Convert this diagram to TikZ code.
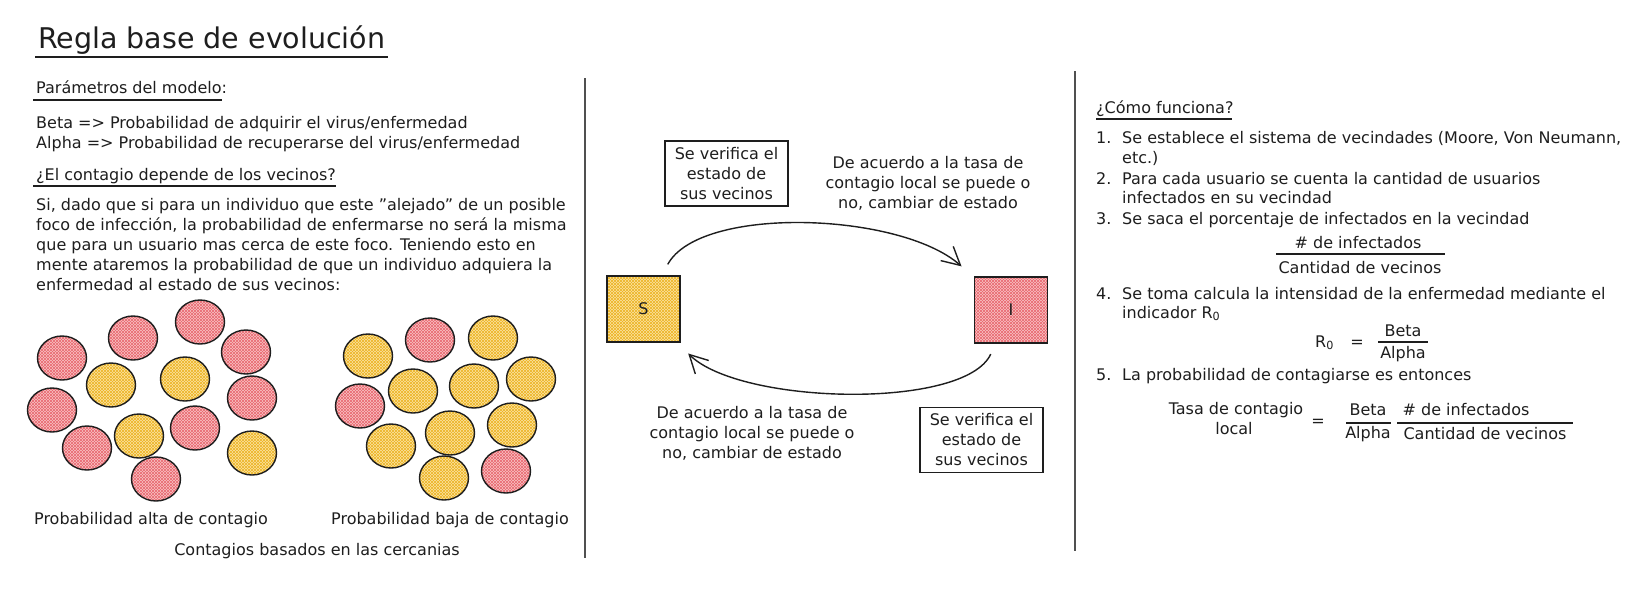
\documentclass[tikz,border=0pt]{standalone}
\usepackage{fontspec}
\setmainfont{DejaVu Sans}
\usetikzlibrary{arrows.meta,patterns}
\definecolor{ink}{HTML}{1E1E1E}
\definecolor{sepc}{HTML}{505050}
\definecolor{redfill}{HTML}{F9C2C5}
\definecolor{redhatch}{HTML}{E9686F}
\definecolor{yelfill}{HTML}{FCE3A2}
\definecolor{yelhatch}{HTML}{EDB424}
\newcommand{\fs}{\fontsize{16}{20}\selectfont}
\begin{document}
\begin{tikzpicture}[x=1pt,y=-1pt,
  txt/.style={anchor=base west,inner sep=0pt,text=ink,font=\fs},
  ctxt/.style={anchor=base,inner sep=0pt,text=ink,font=\fs},
  blk/.style={anchor=center,inner sep=0pt,text=ink,font=\fs,align=center},
  uline/.style={draw=ink,line width=1.3pt},
  sepline/.style={draw=sepc,line width=1.8pt},
  redc/.style={fill=redfill,
    postaction={pattern=north east lines,pattern color=redhatch},
    postaction={pattern=north west lines,pattern color=redhatch},
    postaction={draw=ink,line width=1.4pt}},
  yelc/.style={fill=yelfill,
    postaction={pattern=north east lines,pattern color=yelhatch},
    postaction={pattern=north west lines,pattern color=yelhatch},
    postaction={draw=ink,line width=1.4pt}},
  vbox/.style={draw=ink,line width=1.3pt,minimum width=123pt,minimum height=65pt,
    align=center,inner sep=0pt,text=ink,font=\fs},
  statebox/.style={minimum width=73pt,minimum height=66pt,inner sep=0pt,text=ink,font=\fs},
  arr/.style={draw=ink,line width=1.4pt,-{Straight Barb[length=18pt,width=19pt]}},
  fbar/.style={draw=ink,line width=1.2pt}
]
\useasboundingbox (0,0) rectangle (1637,611);
\fill[white] (0,0) rectangle (1637,611);

% separators
\draw[sepline] (585,78) -- (585,558);
\draw[sepline] (1075,71) -- (1075,551);

% title
\node[anchor=base west,inner sep=0pt,text=ink,font=\fontsize{28.5}{34}\selectfont] (title) at (38,48) {Regla base de evolución};
\draw[uline,line width=2pt] (35,57) -- (388,57);

% left column
\node[txt] (par) at (36,93) {Parámetros del modelo:};
\draw[uline] (33,100) -- (222,100);
\node[txt] (beta) at (36,128) {Beta => Probabilidad de adquirir el virus/enfermedad};
\node[txt] (alpha) at (36,148) {Alpha => Probabilidad de recuperarse del virus/enfermedad};
\node[txt] (q) at (36,180) {¿El contagio depende de los vecinos?};
\draw[uline] (33,186) -- (336,186);
\node[txt] (p1) at (36,210) {Si, dado que si para un individuo que este "alejado" de un posible};
\node[txt] (p2) at (36,230) {foco de infección, la probabilidad de enfermarse no será la misma};
\node[txt] (p3) at (36,250) {que para un usuario mas cerca de este foco. Teniendo esto en};
\node[txt] (p4) at (36,270) {mente ataremos la probabilidad de que un individuo adquiera la};
\node[txt] (p5) at (36,290) {enfermedad al estado de sus vecinos:};

% left cluster
\foreach \x/\y in {62/358,133/338,200/322,246/352,252/398,52/410,195/428,87/448,156/479}
  \path[redc] (\x,\y) ellipse [x radius=24.5, y radius=22];
\foreach \x/\y in {111/385,185/379,139/436,252/453}
  \path[yelc] (\x,\y) ellipse [x radius=24.5, y radius=22];
% right cluster
\foreach \x/\y in {430/340,360/406,506/471}
  \path[redc] (\x,\y) ellipse [x radius=24.5, y radius=22];
\foreach \x/\y in {368/356,493/338,413/391,474/386,531/379,450/433,512/425,391/446,444/478}
  \path[yelc] (\x,\y) ellipse [x radius=24.5, y radius=22];

\node[ctxt] (alta) at (151,524) {Probabilidad alta de contagio};
\node[ctxt] (baja) at (450,524) {Probabilidad baja de contagio};
\node[ctxt] (cerc) at (317,555) {Contagios basados en las cercanias};

% middle
\node[vbox] (v1) at (726.5,173.5) {Se verifica el\\estado de\\sus vecinos};
\node[vbox] (v2) at (981.5,440) {Se verifica el\\estado de\\sus vecinos};
\node[blk] (l1) at (928,183) {De acuerdo a la tasa de\\contagio local se puede o\\no, cambiar de estado};
\node[blk] (l2) at (752,433) {De acuerdo a la tasa de\\contagio local se puede o\\no, cambiar de estado};

\node[statebox,fill=yelfill,
    postaction={pattern=north east lines,pattern color=yelhatch},
    postaction={pattern=north west lines,pattern color=yelhatch},
    postaction={draw=ink,line width=1.4pt}] (S) at (643.5,309) {S};
\node[statebox,fill=redfill,
    postaction={pattern=north east lines,pattern color=redhatch},
    postaction={pattern=north west lines,pattern color=redhatch},
    postaction={draw=ink,line width=1.4pt}] (I) at (1011,310) {I};

\draw[arr,shorten <=13pt,shorten >=17pt] (S) .. controls (700,205) and (900,212) .. (I);
\draw[arr,shorten <=12pt,shorten >=16pt] (I) .. controls (965,410) and (740,405) .. (S);

% right column
\node[txt] (how) at (1096,113) {¿Cómo funciona?};
\draw[uline] (1096,119) -- (1232,119);
\node[txt] (n1) at (1096,143) {1.};
\node[txt] (t1) at (1122,143) {Se establece el sistema de vecindades (Moore, Von Neumann,};
\node[txt] (t1b) at (1122,163) {etc.)};
\node[txt] (n2) at (1096,184) {2.};
\node[txt] (t2) at (1122,184) {Para cada usuario se cuenta la cantidad de usuarios};
\node[txt] (t2b) at (1122,203) {infectados en su vecindad};
\node[txt] (n3) at (1096,224) {3.};
\node[txt] (t3) at (1122,224) {Se saca el porcentaje de infectados en la vecindad};
\node[ctxt] (f1n) at (1358,248) {\# de infectados};
\draw[fbar] (1276,254) -- (1445,254);
\node[ctxt] (f1d) at (1360,273) {Cantidad de vecinos};
\node[txt] (n4) at (1096,299) {4.};
\node[txt] (t4) at (1122,299) {Se toma calcula la intensidad de la enfermedad mediante el};
\node[txt] (t4b) at (1122,318) {indicador R\textsubscript{0}};
\node[txt] (r0) at (1315,347) {R\textsubscript{0}};
\node[ctxt] (eq1) at (1357,347) {=};
\node[ctxt] (b1) at (1403,336) {Beta};
\draw[fbar] (1378,342) -- (1428,342);
\node[ctxt] (a1) at (1403,358) {Alpha};
\node[txt] (n5) at (1096,380) {5.};
\node[txt] (t5) at (1122,380) {La probabilidad de contagiarse es entonces};
\node[ctxt] (tasa) at (1236,414) {Tasa de contagio};
\node[ctxt] (loc) at (1234,434) {local};
\node[ctxt] (eq2) at (1318,426) {=};
\node[ctxt] (b2) at (1368,415) {Beta};
\draw[fbar] (1346,423) -- (1391,423);
\node[ctxt] (a2) at (1368,438) {Alpha};
\node[ctxt] (f2n) at (1466,415) {\# de infectados};
\draw[fbar] (1397,423) -- (1573,423);
\node[ctxt] (f2d) at (1485,439) {Cantidad de vecinos};
\end{tikzpicture}
\end{document}
